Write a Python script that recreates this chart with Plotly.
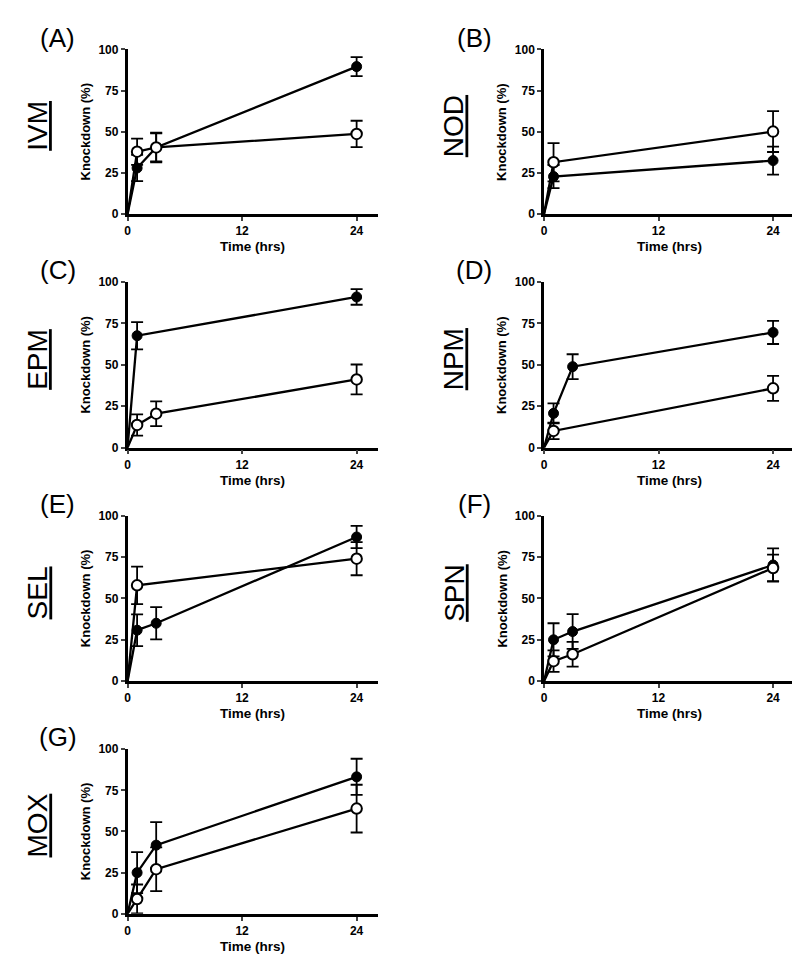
import plotly.graph_objects as go

# ---------------- data ----------------
panel_letters = ["(A)", "(B)", "(C)", "(D)", "(E)", "(F)", "(G)"]
drug_names = ["IVM", "NOD", "EPM", "NPM", "SEL", "SPN", "MOX"]

ivm_t_filled = [0, 1, 3, 24]
ivm_filled = [0, 28, 40.5, 89.6]
ivm_filled_err = [0, 8, 8.5, 5.8]
ivm_t_open = [0, 1, 3, 24]
ivm_open = [0, 37.9, 40.5, 48.7]
ivm_open_err = [0, 8, 9, 8]

nod_t_filled = [0, 1, 24]
nod_filled = [0, 22.8, 32.5]
nod_filled_err = [0, 7, 8.5]
nod_t_open = [0, 1, 24]
nod_open = [0, 31.5, 50.1]
nod_open_err = [0, 11.6, 12.4]

epm_t_filled = [0, 1, 24]
epm_filled = [0, 67.6, 91.0]
epm_filled_err = [0, 8.2, 4.7]
epm_t_open = [0, 1, 3, 24]
epm_open = [0, 13.7, 20.5, 41.2]
epm_open_err = [0, 6.4, 7.5, 9]

npm_t_filled = [0, 1, 3, 24]
npm_filled = [0, 20.7, 48.9, 69.6]
npm_filled_err = [0, 6, 7.5, 7]
npm_t_open = [0, 1, 24]
npm_open = [0, 10.1, 35.8]
npm_open_err = [0, 5, 7.5]

sel_t_filled = [0, 1, 3, 24]
sel_filled = [0, 30.8, 35.0, 87.1]
sel_filled_err = [0, 9.6, 9.7, 6.7]
sel_t_open = [0, 1, 24]
sel_open = [0, 57.9, 74.0]
sel_open_err = [0, 11.3, 10]

spn_t_filled = [0, 1, 3, 24]
spn_filled = [0, 25.0, 30.0, 70.2]
spn_filled_err = [0, 10, 10.5, 10]
spn_t_open = [0, 1, 3, 24]
spn_open = [0, 12.1, 16.3, 68.4]
spn_open_err = [0, 6.5, 7.5, 8]

mox_t_filled = [0, 1, 3, 24]
mox_filled = [0, 25.0, 41.7, 83.2]
mox_filled_err = [0, 12.5, 14, 11]
mox_t_open = [0, 1, 3, 24]
mox_open = [0, 9.0, 27.1, 63.9]
mox_open_err = [0, 8.8, 13.3, 14.5]

y_ticks = [0, 25, 50, 75, 100]
x_ticks = [0, 12, 24]

panels = [
    (ivm_t_filled, ivm_filled, ivm_filled_err, ivm_t_open, ivm_open, ivm_open_err),
    (nod_t_filled, nod_filled, nod_filled_err, nod_t_open, nod_open, nod_open_err),
    (epm_t_filled, epm_filled, epm_filled_err, epm_t_open, epm_open, epm_open_err),
    (npm_t_filled, npm_filled, npm_filled_err, npm_t_open, npm_open, npm_open_err),
    (sel_t_filled, sel_filled, sel_filled_err, sel_t_open, sel_open, sel_open_err),
    (spn_t_filled, spn_filled, spn_filled_err, spn_t_open, spn_open, spn_open_err),
    (mox_t_filled, mox_filled, mox_filled_err, mox_t_open, mox_open, mox_open_err),
]

# ---------------- layout geometry (pixels) ----------------
W, H = 800, 966
col_left = [117, 535]
plot_w = 251
row_top = [35, 271, 508, 745]
row_bot = [202, 439, 676, 912]

FONT = "Liberation Sans, Arial, sans-serif"

fig = go.Figure()
annotations = []
layout_axes = {}

for i, (tf, yf, ef, to, yo, eo) in enumerate(panels):
    r, c = divmod(i, 2)
    n = i + 1
    xa = "x" if n == 1 else f"x{n}"
    ya = "y" if n == 1 else f"y{n}"
    xkey = "xaxis" if n == 1 else f"xaxis{n}"
    ykey = "yaxis" if n == 1 else f"yaxis{n}"
    x0 = col_left[c]
    x1 = x0 + plot_w
    top, bot = row_top[r], row_bot[r]

    layout_axes[xkey] = dict(
        domain=[x0 / W, x1 / W], anchor=ya, range=[0, 26.2],
        tickvals=x_ticks, ticks="outside", ticklen=4, tickwidth=2.2,
        showline=True, linewidth=2.5, linecolor="black", showgrid=False,
        zeroline=False, tickfont=dict(family=FONT, size=12, color="black", weight="bold"),
    )
    layout_axes[ykey] = dict(
        domain=[1 - bot / H, 1 - top / H], anchor=xa, range=[0, 100],
        tickvals=y_ticks, ticks="outside", ticklen=4, tickwidth=2.2,
        showline=True, linewidth=2.5, linecolor="black", showgrid=False,
        zeroline=False, tickfont=dict(family=FONT, size=12, color="black", weight="bold"),
    )

    # filled series
    fig.add_trace(go.Scatter(x=tf, y=yf, mode="lines", line=dict(color="black", width=2.3),
                             xaxis=xa, yaxis=ya, showlegend=False, cliponaxis=False, hoverinfo="skip"))
    fig.add_trace(go.Scatter(x=tf[1:], y=yf[1:], mode="markers",
                             marker=dict(symbol="circle", size=10, color="black",
                                         line=dict(color="black", width=1)),
                             error_y=dict(type="data", array=ef[1:], color="black", thickness=1.8, width=6),
                             xaxis=xa, yaxis=ya, showlegend=False, cliponaxis=False))
    # open series
    fig.add_trace(go.Scatter(x=to, y=yo, mode="lines", line=dict(color="black", width=2.3),
                             xaxis=xa, yaxis=ya, showlegend=False, cliponaxis=False, hoverinfo="skip"))
    fig.add_trace(go.Scatter(x=to[1:], y=yo[1:], mode="markers",
                             marker=dict(symbol="circle", size=10.5, color="white",
                                         line=dict(color="black", width=2)),
                             error_y=dict(type="data", array=eo[1:], color="black", thickness=1.8, width=6),
                             xaxis=xa, yaxis=ya, showlegend=False, cliponaxis=False))

    # panel letter
    annotations.append(dict(text=panel_letters[i], x=(x0 - 70) / W, y=1 - (top - 12) / H,
                            xref="paper", yref="paper", showarrow=False, xanchor="center", yanchor="middle",
                            font=dict(family=FONT, size=26, color="black")))
    # drug name (rotated, underlined)
    annotations.append(dict(text=f"<u>{drug_names[i]}</u>", x=(x0 - 90) / W, y=1 - ((top + bot) / 2 - 6) / H,
                            xref="paper", yref="paper", showarrow=False, textangle=-90,
                            xanchor="center", yanchor="middle",
                            font=dict(family=FONT, size=28, color="black")))
    # y title
    annotations.append(dict(text="Knockdown (%)", x=(x0 - 42) / W, y=1 - ((top + bot) / 2) / H,
                            xref="paper", yref="paper", showarrow=False, textangle=-90,
                            xanchor="center", yanchor="middle",
                            font=dict(family=FONT, size=13, color="black", weight="bold")))
    # x title
    annotations.append(dict(text="Time (hrs)", x=(x0 + plot_w / 2) / W, y=1 - (bot + 33) / H,
                            xref="paper", yref="paper", showarrow=False,
                            xanchor="center", yanchor="middle",
                            font=dict(family=FONT, size=13.5, color="black", weight="bold")))

fig.update_layout(
    width=W, height=H, margin=dict(l=0, r=0, t=0, b=0),
    paper_bgcolor="white", plot_bgcolor="white",
    annotations=annotations, showlegend=False,
    **layout_axes,
)

fig.write_html("out.html")
